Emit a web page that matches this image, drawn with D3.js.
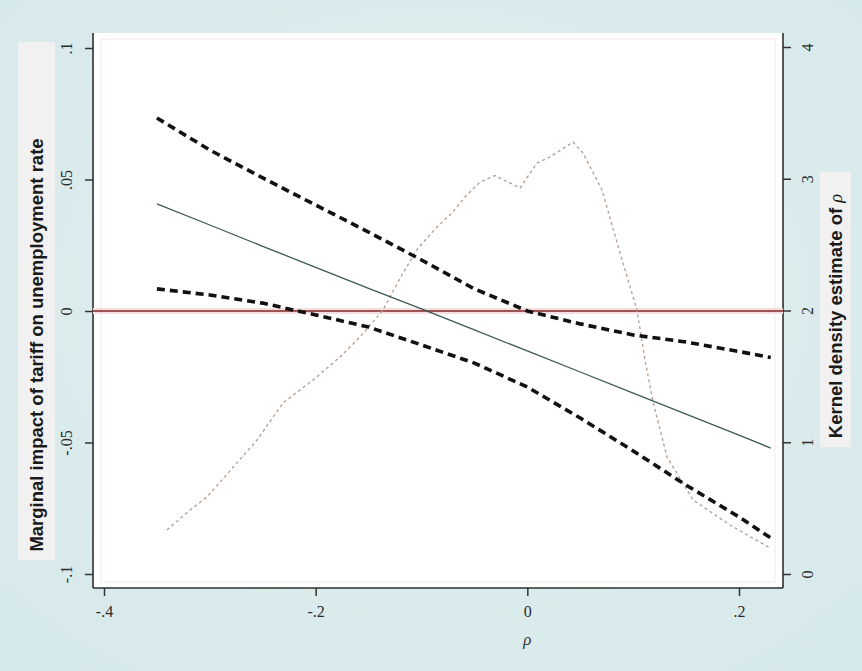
<!DOCTYPE html>
<html>
<head>
<meta charset="utf-8">
<title>Marginal impact of tariff</title>
<script src="https://d3js.org/d3.v7.min.js"></script>
<style>
  body { margin: 0; background: #dcebec; }
  svg { display: block; }
  .tick-label { font-family: "Liberation Serif", "DejaVu Serif", serif; font-size: 16px; fill: #2a2a2a; }
  .axis-title { font-family: "Liberation Sans", Arial, sans-serif; font-size: 18.5px; font-weight: bold; fill: #1a1a1a; }
</style>
</head>
<body>
<div id="chart"></div>
<script>
'use strict';

// rho grid used for the marginal effect and its confidence band
var rho = [-0.35, -0.30, -0.25, -0.20, -0.15, -0.10, -0.05, 0.00, 0.05, 0.10, 0.15, 0.20, 0.23];
var marginalEffect = [0.0407, 0.0327, 0.0246, 0.0166, 0.0086, 0.0008, -0.0072, -0.0152, -0.0232, -0.0312, -0.0392, -0.0472, -0.0521];
var upperBound = [0.0734, 0.0612, 0.0506, 0.0403, 0.0300, 0.0194, 0.0084, 0.0000, -0.0049, -0.0091, -0.0118, -0.0154, -0.0177];
var lowerBound = [0.0084, 0.0061, 0.0030, -0.0015, -0.0061, -0.0129, -0.0198, -0.0289, -0.0407, -0.0532, -0.0662, -0.0783, -0.0863];

// kernel density of rho (right axis)
var densityRho = [-0.3405, -0.3187, -0.3027, -0.2554, -0.2309, -0.2025, -0.1770, -0.1581, -0.1364, -0.1175, -0.1033,
  -0.0853, -0.0712, -0.0589, -0.0447, -0.0306, -0.0069, 0.0091, 0.0214, 0.0432, 0.0526, 0.0706, 0.0876, 0.1036,
  0.1112, 0.1188, 0.1320, 0.1566, 0.1915, 0.2293];
var densityValue = [0.334, 0.486, 0.584, 1.017, 1.298, 1.472, 1.647, 1.799, 2.004, 2.285, 2.474,
  2.634, 2.740, 2.862, 2.975, 3.024, 2.930, 3.120, 3.165, 3.279, 3.195, 2.915, 2.436, 2.004,
  1.624, 1.305, 0.888, 0.562, 0.372, 0.197];

// tick labels
var xTicks = [-0.4, -0.2, 0, 0.2];
var xTickLabels = ['-.4', '-.2', '0', '.2'];
var leftTicks = [-0.1, -0.05, 0, 0.05, 0.1];
var leftTickLabels = ['-.1', '-.05', '0', '.05', '.1'];
var rightTicks = [0, 1, 2, 3, 4];
var rightTickLabels = ['0', '1', '2', '3', '4'];

var width = 862, height = 671;
var frameLeft = 93, frameRight = 783, frameTop = 33, frameBottom = 588;

var svg = d3.select('#chart').append('svg')
  .attr('width', width)
  .attr('height', height);

var x = d3.scaleLinear().domain([-0.4, 0.2]).range([104, 739]);
var yLeft = d3.scaleLinear().domain([-0.1, 0.1]).range([574, 48]);
var yRight = d3.scaleLinear().domain([0, 4]).range([574, 47]);

/**
 * Background and plot region
 */
var defs = svg.append('defs');
var grad = defs.append('radialGradient').attr('id', 'bg').attr('cx', '50%').attr('cy', '45%').attr('r', '75%');
grad.append('stop').attr('offset', '0%').attr('stop-color', '#e4f0f0');
grad.append('stop').attr('offset', '100%').attr('stop-color', '#d5e8ea');

svg.append('rect').attr('width', width).attr('height', height).attr('fill', 'url(#bg)');
svg.append('rect')
  .attr('x', frameLeft).attr('y', frameTop)
  .attr('width', frameRight - frameLeft).attr('height', frameBottom - frameTop)
  .attr('fill', '#ffffff');
svg.append('rect')
  .attr('x', frameLeft + 8).attr('y', frameTop + 6)
  .attr('width', frameRight - frameLeft - 16).attr('height', frameBottom - frameTop - 12)
  .attr('fill', 'none').attr('stroke', '#faf0f0').attr('stroke-width', 1.5);

/**
 * Axis title boxes
 */
svg.append('rect').attr('x', 18).attr('y', 42).attr('width', 37).attr('height', 518).attr('fill', '#f1f1f1');
svg.append('rect').attr('x', 820).attr('y', 172).attr('width', 31).attr('height', 275).attr('fill', '#f1f1f1');

/**
 * Axes
 */
function styleAxis(g) {
  g.select('.domain').remove();
  g.selectAll('.tick line').attr('stroke', '#333').attr('stroke-width', 1.5);
  g.selectAll('.tick text').attr('class', 'tick-label').attr('fill', null).attr('font-size', null).attr('font-family', null);
}

svg.append('g')
  .attr('transform', 'translate(0,' + frameBottom + ')')
  .call(d3.axisBottom(x).tickValues(xTicks).tickSize(8).tickPadding(10)
    .tickFormat(function(d, i) { return xTickLabels[i]; }))
  .call(styleAxis);

svg.append('g')
  .attr('transform', 'translate(' + frameLeft + ',0)')
  .call(d3.axisLeft(yLeft).tickValues(leftTicks).tickSize(8)
    .tickFormat(function(d, i) { return leftTickLabels[i]; }))
  .call(styleAxis)
  .selectAll('.tick text')
  .attr('transform', 'rotate(-90)')
  .attr('x', 0).attr('y', -21).attr('dy', 0)
  .attr('text-anchor', 'middle');

svg.append('g')
  .attr('transform', 'translate(' + frameRight + ',0)')
  .call(d3.axisRight(yRight).tickValues(rightTicks).tickSize(8)
    .tickFormat(function(d, i) { return rightTickLabels[i]; }))
  .call(styleAxis)
  .selectAll('.tick text')
  .attr('transform', 'rotate(-90)')
  .attr('x', 0).attr('y', 30).attr('dy', 0)
  .attr('text-anchor', 'middle');

// frame lines (no top line)
var frame = svg.append('g').attr('stroke', '#2e2e2e').attr('stroke-width', 1.6);
frame.append('line').attr('x1', frameLeft).attr('x2', frameLeft).attr('y1', frameTop).attr('y2', frameBottom);
frame.append('line').attr('x1', frameRight).attr('x2', frameRight).attr('y1', frameTop).attr('y2', frameBottom);
frame.append('line').attr('x1', frameLeft).attr('x2', frameRight).attr('y1', frameBottom).attr('y2', frameBottom);

/**
 * Zero reference line
 */
svg.append('line')
  .attr('x1', frameLeft).attr('x2', frameRight)
  .attr('y1', yLeft(0)).attr('y2', yLeft(0))
  .attr('stroke', '#f5dede').attr('stroke-width', 6);
svg.append('line')
  .attr('x1', frameLeft).attr('x2', frameRight)
  .attr('y1', yLeft(0)).attr('y2', yLeft(0))
  .attr('stroke', '#7e2626').attr('stroke-width', 1.6);

/**
 * Series
 */
var leftLine = d3.line()
  .x(function(d) { return x(d[0]); })
  .y(function(d) { return yLeft(d[1]); });

var densityLine = d3.line()
  .x(function(d) { return x(d[0]); })
  .y(function(d) { return yRight(d[1]); });

svg.append('path')
  .datum(d3.zip(densityRho, densityValue))
  .attr('d', densityLine)
  .attr('fill', 'none')
  .attr('stroke', '#b09c90')
  .attr('stroke-width', 1.3)
  .attr('stroke-dasharray', '3,3');

svg.append('path')
  .datum(d3.zip(rho, marginalEffect))
  .attr('d', leftLine)
  .attr('fill', 'none')
  .attr('stroke', '#3d5858')
  .attr('stroke-width', 1.3);

[upperBound, lowerBound].forEach(function(band) {
  svg.append('path')
    .datum(d3.zip(rho, band))
    .attr('d', leftLine)
    .attr('fill', 'none')
    .attr('stroke', '#111')
    .attr('stroke-width', 3.6)
    .attr('stroke-dasharray', '8,5');
});

/**
 * Axis titles
 */
svg.append('text')
  .attr('class', 'axis-title')
  .attr('transform', 'translate(43,345) rotate(-90)')
  .attr('text-anchor', 'middle')
  .text('Marginal impact of tariff on unemployment rate');

var rightTitle = svg.append('text')
  .attr('class', 'axis-title')
  .attr('transform', 'translate(842,316) rotate(-90)')
  .attr('text-anchor', 'middle');
rightTitle.append('tspan').text('Kernel density estimate of ');
rightTitle.append('tspan')
  .attr('font-family', '"Liberation Serif", serif')
  .attr('font-style', 'italic')
  .attr('font-weight', 'normal')
  .text('\u03c1');

svg.append('text')
  .attr('x', x(0)).attr('y', 645)
  .attr('text-anchor', 'middle')
  .attr('font-family', '"Liberation Serif", serif')
  .attr('font-style', 'italic')
  .attr('font-size', 17)
  .attr('fill', '#333')
  .text('\u03c1');
</script>
</body>
</html>
